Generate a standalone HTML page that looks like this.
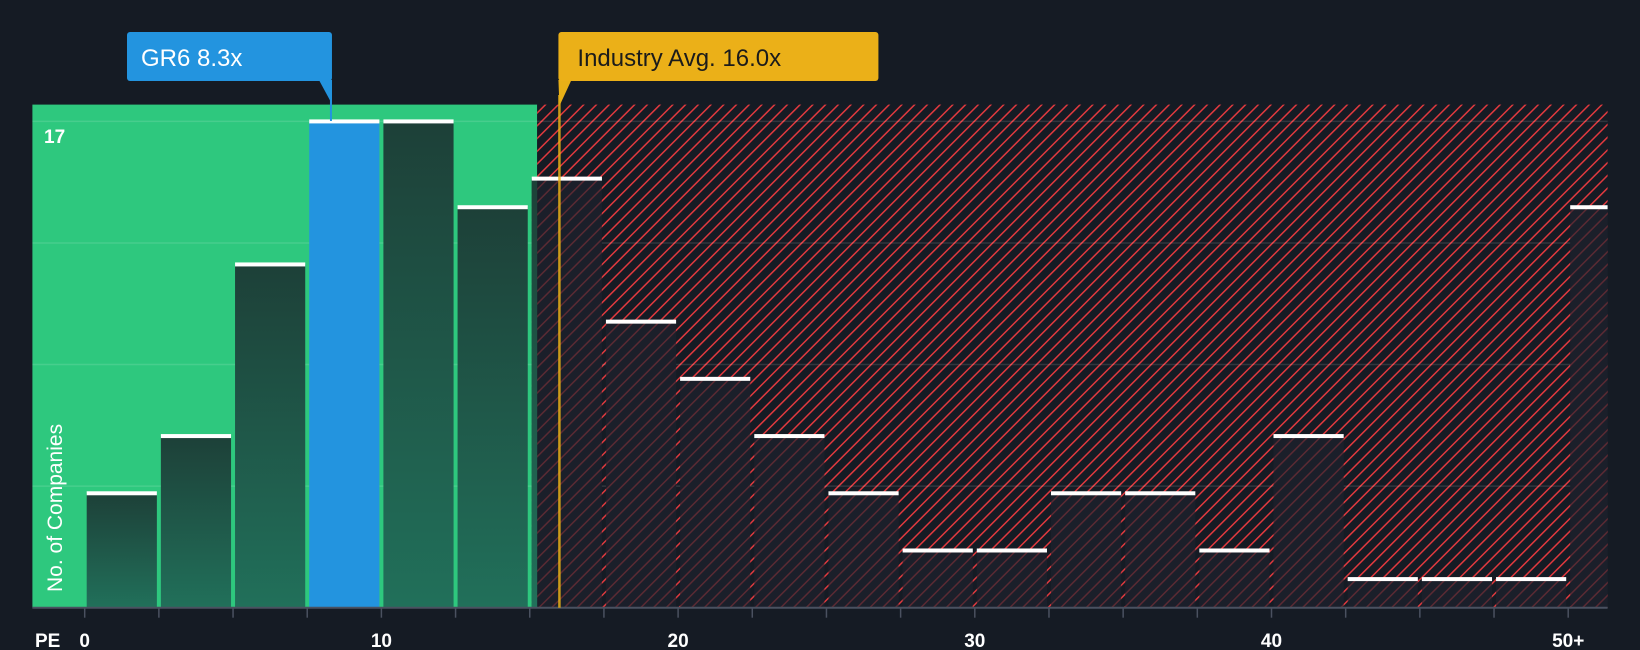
<!DOCTYPE html>
<html><head><meta charset="utf-8"><style>
html,body{margin:0;padding:0;background:#151b24;}
svg{display:block;font-family:"Liberation Sans",sans-serif;}
</style></head><body>
<svg id="chart" width="1640" height="650" viewBox="0 0 1640 650" xmlns="http://www.w3.org/2000/svg">
<defs>
<pattern id="hatch" patternUnits="userSpaceOnUse" width="9" height="9" patternTransform="rotate(45)">
<rect width="9" height="9" fill="#151b24"/>
<line x1="0" y1="0" x2="0" y2="9" stroke="#e0393e" stroke-width="3"/>
</pattern>
<pattern id="hatchDim" patternUnits="userSpaceOnUse" width="9" height="9" patternTransform="rotate(45)">
<rect width="9" height="9" fill="#1b1f2a"/>
<line x1="0" y1="0" x2="0" y2="9" stroke="#5a2a33" stroke-width="3"/>
</pattern>
<linearGradient id="gDark" x1="0" y1="0" x2="0" y2="1">
<stop offset="0" stop-color="#1d4038"/><stop offset="1" stop-color="#21705a"/>
</linearGradient>
</defs>
<g id="plot"></g>
</svg>
<script>
const categories = ["0-2.5","2.5-5","5-7.5","7.5-10","10-12.5","12.5-15","15-17.5","17.5-20","20-22.5","22.5-25","25-27.5","27.5-30","30-32.5","32.5-35","35-37.5","37.5-40","40-42.5","42.5-45","45-47.5","47.5-50","50+"];
const counts = [4,6,12,17,17,14,15,10,8,6,4,2,2,4,4,2,6,1,1,1,14];
const xTicks = [0,10,20,30,40];
const xTickLabels = ["0","10","20","30","40"];
const companyValue = 8.3;
const industryValue = 16.0;
const yMaxLabel = 17;

const NS="http://www.w3.org/2000/svg";
const L=32.4,R=1607.6,T=104.6,B=607.7,X0=84.7,PX=29.67,BIN=2.5;
const yPx=27.35*1.0459;
function x(v){return X0+v*PX;}
function y(v){return B-v*yPx;}
const g=document.getElementById('plot');
function mk(tag,attrs){const e=document.createElementNS(NS,tag);for(const k in attrs)e.setAttribute(k,attrs[k]);g.appendChild(e);return e;}
const greenEnd=x(15.25);
let e;
e=mk('rect',{x:L,y:T,width:greenEnd-L,height:B-T,fill:'#2ec87e'});


e=mk('rect',{x:greenEnd,y:T,width:R-greenEnd,height:B-T,fill:'url(#hatch)'});


for(let i=1;i<=4;i++){
  const yy=y(yMaxLabel*i/4);
  e=mk('line',{x1:L,x2:R,y1:yy,y2:yy,stroke:'rgba(255,255,255,0.12)','stroke-width':1.5});
  
  
}
counts.forEach((c,i)=>{
  const x1=x(i*BIN)+2, x2=Math.min(x((i+1)*BIN)-2, R);
  const isCo = companyValue>=i*BIN && companyValue<(i+1)*BIN;
  let fill;
  if(isCo) fill='#2394df';
  else if(x2<=greenEnd) fill='url(#gDark)';
  else fill='url(#hatchDim)';
  const r=mk('rect',{x:x1,y:y(c),width:x2-x1,height:B-y(c),fill:fill});
  
  
  if(!isCo && x1<greenEnd && x2>greenEnd){
    const p=mk('rect',{x:x1,y:y(c),width:greenEnd-x1,height:B-y(c),fill:'url(#gDark)'});
    
    
  }
  const cap=mk('rect',{x:x1,y:y(c)-2,width:x2-x1,height:4,fill:'#ffffff'});
  
  
  const tx=x(i*BIN);
  const t=mk('line',{x1:tx,x2:tx,y1:B,y2:B+10,stroke:'#4a5160','stroke-width':1.5});
  
  
});
e=mk('line',{x1:L,x2:R,y1:B,y2:B,stroke:'#4a5160','stroke-width':2});


function txt(s,attrs,name){const t=mk('text',attrs);t.textContent=s;return t;}
xTicks.forEach((v,i)=>{txt(xTickLabels[i],{x:x(v),y:647,'text-anchor':'middle',fill:'#fff','font-size':19,'font-weight':'bold'},'x-tick-label');});
txt('50+',{x:x(50),y:647,'text-anchor':'middle',fill:'#fff','font-size':19,'font-weight':'bold'},'x-tick-label');
txt('PE',{x:35,y:647,fill:'#fff','font-size':19,'font-weight':'bold'},'x-axis-title');
txt(String(yMaxLabel),{x:44,y:143,fill:'#fff','font-size':19,'font-weight':'bold'},'y-max-label');
txt('No. of Companies',{x:0,y:0,fill:'#fff','font-size':21,transform:'translate(62,592) rotate(-90)'},'y-axis-title');
// industry line
const ix=x(industryValue);
e=mk('line',{x1:ix,x2:ix,y1:95,y2:B,stroke:'#e8b017','stroke-width':2.5,opacity:0.85});


e=mk('path',{d:`M${ix-1} 80 L${ix+12} 80 L${ix} 106 Z`,fill:'#e8b017'});


e=mk('rect',{x:ix-1,y:32,width:320,height:49,rx:3,fill:'#ebb018'});


txt('Industry Avg. 16.0x',{x:ix+18,y:66,fill:'#1b1b1b','font-size':24},'industry-avg-label');
// company
const cx=x(companyValue);
e=mk('line',{x1:cx,x2:cx,y1:80,y2:121,stroke:'#2394df','stroke-width':2});


e=mk('path',{d:`M${cx-12} 80 L${cx+1} 80 L${cx+1} 104 Z`,fill:'#2394df'});


e=mk('rect',{x:127,y:32,width:cx+1-127,height:49,rx:3,fill:'#2394df'});


txt('GR6 8.3x',{x:141,y:66,fill:'#fff','font-size':24},'company-label');
</script>
</body></html>
